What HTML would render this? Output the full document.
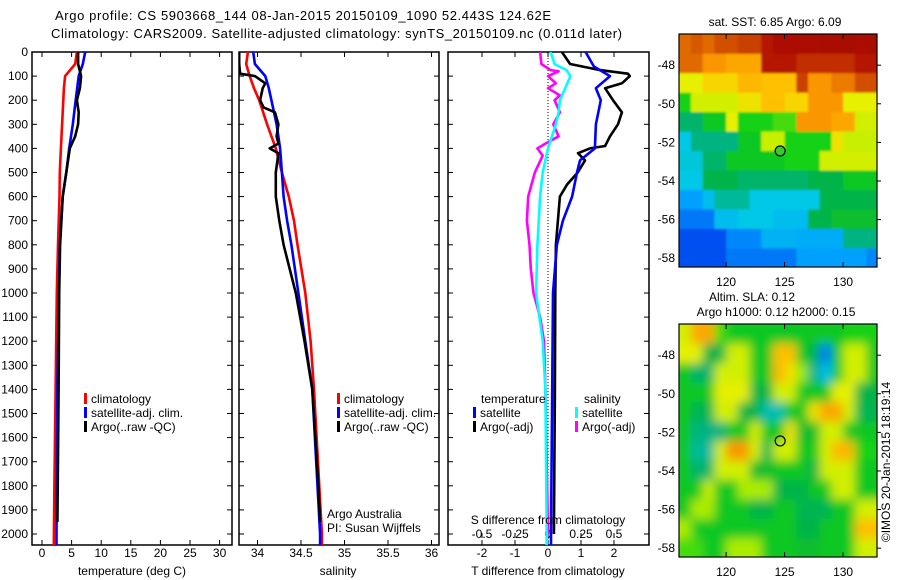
<!DOCTYPE html>
<html><head><meta charset="utf-8"><style>
body{margin:0;background:#fff;}
svg{display:block;font-family:"Liberation Sans",sans-serif;}
text{fill:#000;}
</style></head><body>
<svg id="fig" width="900" height="580" viewBox="0 0 900 580" xmlns="http://www.w3.org/2000/svg">
<defs>
<clipPath id="c1"><rect x="32" y="52" width="200" height="493"/></clipPath>
<clipPath id="c2"><rect x="239" y="52" width="200" height="493"/></clipPath>
<clipPath id="c3"><rect x="448" y="52" width="201" height="493"/></clipPath>
<clipPath id="cm1"><rect x="679" y="34" width="198" height="233"/></clipPath>
<clipPath id="cm2"><rect x="679" y="324" width="198" height="233"/></clipPath>
<filter id="blurS" x="-5%" y="-5%" width="110%" height="110%"><feGaussianBlur stdDeviation="1"/></filter>
<filter id="blurL" x="-5%" y="-5%" width="110%" height="110%"><feGaussianBlur stdDeviation="5"/></filter>
</defs>
<text x="55" y="20" font-size="13" textLength="496">Argo profile: CS 5903668_144 08-Jan-2015 20150109_1090 52.443S 124.62E</text>
<text x="51" y="38" font-size="13" textLength="571">Climatology: CARS2009. Satellite-adjusted climatology: synTS_20150109.nc (0.011d later)</text>
<g id="g"></g>
</svg>
<script>
// ---- profile data (depth in dbar, values) ----
const climTempDepth = [0,50,100,150,300,400,500,600,800,1000,1400,1800,2050];
const climTempVal   = [5.9,5.6,3.9,3.7,3.4,3.2,3.0,2.95,2.7,2.5,2.3,2.1,2.0];
const satTempDepth  = [0,50,100,200,300,400,500,600,800,1000,1400,2000,2050];
const satTempVal    = [7.3,6.9,6.2,5.7,5.2,4.6,4.1,3.5,3.0,2.85,2.6,2.45,2.45];
const argoTempDepth = [0,50,100,150,200,250,300,350,400,500,600,800,1000,1400,1950];
const argoTempVal   = [6.1,6.1,6.6,6.4,5.9,6.2,6.1,5.6,4.7,4.1,3.5,3.05,2.9,2.8,2.6];

const climSalDepth = [0,50,100,150,200,300,400,500,600,700,800,1000,1200,1400,2000,2050];
const climSalVal   = [33.89,33.87,33.91,33.96,34.02,34.11,34.21,34.28,34.36,34.42,34.46,34.55,34.61,34.65,34.74,34.74];
const satSalDepth  = [0,50,100,150,200,300,400,500,600,700,800,1000,1200,1400,2000,2050];
const satSalVal    = [33.95,33.97,34.09,34.13,34.16,34.22,34.26,34.28,34.30,34.34,34.39,34.47,34.55,34.63,34.72,34.72];
const argoSalDepth = [0,50,90,100,130,150,200,230,250,300,350,380,400,420,500,600,700,800,900,1000,1200,1400,1800,1950];
const argoSalVal   = [33.79,33.79,33.80,33.97,34.09,34.06,34.03,34.07,34.20,34.24,34.22,34.24,34.14,34.24,34.21,34.21,34.25,34.30,34.37,34.44,34.54,34.63,34.70,34.72];

const satTdDepth  = [0,60,100,150,200,300,400,450,500,600,700,800,1000,2000,2050];
const satTdVal    = [1.14,1.39,1.88,1.45,1.6,1.45,1.42,0.97,0.88,0.73,0.45,0.27,0.15,0.09,0.09];
const argoTdDepth = [0,50,75,90,100,130,150,200,250,300,350,390,400,420,450,500,550,600,700,800,1000,1400,2000];
const argoTdVal   = [0.42,0.67,1.58,2.42,2.48,2.24,1.73,1.97,2.24,2.12,1.88,1.73,1.27,0.91,1.12,0.9,0.58,0.36,0.3,0.24,0.22,0.21,0.18];
const satSdDepth  = [0,50,75,100,150,200,250,300,350,400,500,600,800,1000,1200,1400,2000,2050];
const satSdVal    = [0.02,0.05,0.14,0.17,0.13,0.09,0.08,0.06,0.03,0.0,-0.04,-0.06,-0.08,-0.09,-0.04,-0.02,-0.01,-0.01];
const argoSdDepth = [0,50,75,80,100,130,150,180,200,250,300,350,380,400,430,500,600,700,800,900,1000,1100,1200,1400,2000];
const argoSdVal   = [-0.06,-0.05,0.02,0.08,0.0,0.06,0.0,0.09,0.05,0.09,0.04,0.08,-0.02,-0.08,-0.04,-0.1,-0.15,-0.16,-0.14,-0.13,-0.11,-0.06,-0.03,-0.02,0.0];

const depthTicks = [0,100,200,300,400,500,600,700,800,900,1000,1100,1200,1300,1400,1500,1600,1700,1800,1900,2000];
const tempTicks = [0,5,10,15,20,25,30];
const salTicks = [34,34.5,35,35.5,36];
const salTickLabels = ["34","34.5","35","35.5","36"];
const tdTicks = [-2,-1,0,1,2];
const sdTicks = [-0.5,-0.25,0,0.25,0.5];
const sdTickLabels = ["-0.5","-0.25","0","0.25","0.5"];
const lonTicks = [120,125,130];
const latTicks = [-48,-50,-52,-54,-56,-58];

// map grids: rows lat -46.4 .. -58.5, cols lon 116 .. 133 (normalised colour value)
const sstGrid = [
[0.85,0.87,0.85,0.88,0.88,0.9,0.9,0.95,0.97,0.97,0.97,0.97,0.98,0.98,0.98,0.97,0.98],
[0.85,0.85,0.8,0.8,0.78,0.78,0.78,0.95,0.95,0.95,0.92,0.92,0.92,0.92,0.92,0.95,0.95],
[0.68,0.68,0.72,0.72,0.72,0.76,0.76,0.75,0.75,0.75,0.9,0.8,0.8,0.83,0.83,0.88,0.88],
[0.52,0.66,0.66,0.66,0.66,0.7,0.7,0.75,0.75,0.72,0.72,0.8,0.8,0.8,0.68,0.68,0.68],
[0.42,0.42,0.5,0.5,0.68,0.52,0.52,0.52,0.55,0.55,0.8,0.8,0.8,0.78,0.78,0.66,0.66],
[0.32,0.4,0.4,0.4,0.4,0.5,0.5,0.65,0.65,0.52,0.52,0.52,0.52,0.7,0.65,0.65,0.65],
[0.33,0.33,0.42,0.42,0.5,0.5,0.5,0.5,0.5,0.52,0.52,0.52,0.66,0.66,0.66,0.66,0.66],
[0.32,0.32,0.45,0.45,0.45,0.42,0.42,0.42,0.42,0.42,0.42,0.45,0.45,0.45,0.5,0.5,0.5],
[0.25,0.25,0.3,0.38,0.38,0.38,0.32,0.32,0.32,0.32,0.32,0.32,0.45,0.45,0.45,0.45,0.45],
[0.2,0.2,0.2,0.3,0.3,0.32,0.32,0.32,0.3,0.3,0.3,0.45,0.45,0.48,0.48,0.48,0.48],
[0.15,0.15,0.15,0.15,0.22,0.22,0.22,0.28,0.28,0.28,0.27,0.27,0.27,0.27,0.4,0.4,0.4],
[0.15,0.15,0.15,0.15,0.2,0.2,0.2,0.2,0.2,0.2,0.25,0.25,0.25,0.25,0.25,0.25,0.22]];
const slaGrid = [
[0.66,0.78,0.78,0.55,0.5,0.5,0.5,0.5,0.5,0.5,0.5,0.5,0.5,0.5,0.52,0.52,0.52],
[0.68,0.68,0.45,0.45,0.66,0.66,0.5,0.5,0.75,0.75,0.5,0.45,0.2,0.5,0.66,0.66,0.5],
[0.5,0.42,0.42,0.66,0.66,0.66,0.5,0.5,0.76,0.7,0.6,0.4,0.3,0.5,0.66,0.66,0.5],
[0.5,0.5,0.5,0.68,0.68,0.68,0.45,0.45,0.66,0.66,0.5,0.5,0.5,0.68,0.68,0.45,0.45],
[0.5,0.44,0.44,0.66,0.66,0.45,0.45,0.36,0.36,0.5,0.5,0.7,0.78,0.78,0.66,0.44,0.44],
[0.5,0.4,0.4,0.4,0.5,0.5,0.66,0.5,0.5,0.7,0.48,0.48,0.66,0.66,0.5,0.5,0.5],
[0.5,0.38,0.38,0.66,0.8,0.8,0.66,0.44,0.66,0.66,0.5,0.5,0.66,0.76,0.76,0.52,0.52],
[0.5,0.42,0.42,0.66,0.66,0.66,0.48,0.48,0.5,0.5,0.5,0.45,0.66,0.66,0.66,0.5,0.5],
[0.5,0.5,0.65,0.5,0.5,0.62,0.62,0.62,0.45,0.45,0.45,0.5,0.5,0.66,0.66,0.5,0.5],
[0.5,0.62,0.62,0.5,0.5,0.5,0.45,0.45,0.5,0.5,0.44,0.44,0.44,0.5,0.5,0.66,0.66],
[0.62,0.5,0.5,0.5,0.5,0.5,0.5,0.5,0.5,0.5,0.45,0.45,0.5,0.5,0.5,0.75,0.75],
[0.55,0.55,0.5,0.5,0.62,0.62,0.62,0.5,0.5,0.5,0.48,0.48,0.5,0.5,0.5,0.66,0.66]];
const argoLon = 124.62, argoLat = -52.443;

const NS = "http://www.w3.org/2000/svg";
const G = document.getElementById('g');
function mk(tag, attrs, parent) {
  const e = document.createElementNS(NS, tag);
  for (const k in attrs) e.setAttribute(k, attrs[k]);
  (parent || G).appendChild(e);
  return e;
}
function txt(x, y, s, size, anchor, parent) {
  const t = mk('text', {x: x, y: y, 'font-size': size, 'text-anchor': anchor || 'start'}, parent);
  t.textContent = s;
  return t;
}
const yD = d => 52 + d * 0.241;
const xT = v => 42 + v * 5.92;
const xS = v => 257.5 + (v - 34) * 87;
const xTd = v => 548 + v * 33;
const xSd = v => 548 + v * 132;

function panel(x0, x1, name, showLabels) {
  const r = mk('rect', {x: x0, y: 52, width: x1 - x0, height: 493, fill: '#fff', stroke: '#000', 'stroke-width': 1.5});
  
  
  depthTicks.forEach(d => {
    const y = yD(d);
    mk('line', {x1: x0, x2: x0 + 5, y1: y, y2: y, stroke: '#000'});
    mk('line', {x1: x1, x2: x1 - 5, y1: y, y2: y, stroke: '#000'});
    if (showLabels) {
      const t = txt(28, y + 4, String(d), 12, 'end');
      
      
    }
  });
}
function xticks(ticks, labels, sc, y0, name) {
  ticks.forEach((v, i) => {
    const x = sc(v);
    mk('line', {x1: x, x2: x, y1: 545, y2: 540, stroke: '#000'});
    mk('line', {x1: x, x2: x, y1: 52, y2: 57, stroke: '#000'});
    const t = txt(x, y0, labels[i], 12, 'middle');
    
    
  });
}
function line(depths, vals, sc, color, clip, name, w) {
  const pts = depths.map((d, i) => sc(vals[i]).toFixed(1) + ',' + yD(d).toFixed(1)).join(' ');
  const p = mk('polyline', {points: pts, fill: 'none', stroke: color, 'stroke-width': w || 2.6, 'clip-path': 'url(#' + clip + ')', 'stroke-linejoin': 'round'});
  
  
}
function legend(x, y, color, label) {
  const b = mk('rect', {x: x, y: y - 10, width: 3, height: 11, fill: color});
  
  
  const t = txt(x + 7, y, label, 12);
  
  
}

// Panel 1 temperature
panel(32, 232, 'temperature-panel', true);
xticks(tempTicks, tempTicks.map(String), xT, 557, 'temperature-tick-label');
line(climTempDepth, climTempVal, xT, '#f00', 'c1', 'temp-climatology-line');
line(satTempDepth, satTempVal, xT, '#00f', 'c1', 'temp-satellite-line');
line(argoTempDepth, argoTempVal, xT, '#000', 'c1', 'temp-argo-line');
legend(84, 403, '#f00', 'climatology');
legend(84, 417, '#00f', 'satellite-adj. clim.');
legend(84, 431, '#000', 'Argo(..raw -QC)');
let t = txt(132, 575, 'temperature (deg C)', 12, 'middle');



// Panel 2 salinity
panel(239, 439, 'salinity-panel', false);
xticks(salTicks, salTickLabels, xS, 557, 'salinity-tick-label');
line(climSalDepth, climSalVal, xS, '#f00', 'c2', 'sal-climatology-line');
line(satSalDepth, satSalVal, xS, '#00f', 'c2', 'sal-satellite-line');
line(argoSalDepth, argoSalVal, xS, '#000', 'c2', 'sal-argo-line');
legend(337, 403, '#f00', 'climatology');
legend(337, 417, '#00f', 'satellite-adj. clim.');
legend(337, 431, '#000', 'Argo(..raw -QC)');
t = txt(327, 518, 'Argo Australia', 12);  
t = txt(327, 532, 'PI: Susan Wijffels', 12);  
t = txt(338, 575, 'salinity', 12, 'middle');



// Panel 3 differences
panel(448, 649, 'difference-panel', false);
tdTicks.forEach(v => {
  const x = xTd(v);
  mk('line', {x1: x, x2: x, y1: 545, y2: 540, stroke: '#000'});
  const tl = txt(x, 557, String(v), 12, 'middle');
  
  
});
sdTicks.forEach((v, i) => {
  const x = xSd(v);
  mk('line', {x1: x, x2: x, y1: 52, y2: 57, stroke: '#000'});
  mk('line', {x1: x, x2: x, y1: 538, y2: 533, stroke: '#000'});
  const tl = txt(x, 538, sdTickLabels[i], 12, 'middle');
  
  
});
mk('line', {x1: 548, x2: 548, y1: 52, y2: 545, stroke: '#000', 'stroke-dasharray': '1,2'});
line(argoSdDepth, argoSdVal, xSd, '#f0f', 'c3', 's-diff-argo-line');
line(satSdDepth, satSdVal, xSd, '#0ff', 'c3', 's-diff-satellite-line');
line(argoTdDepth, argoTdVal, xTd, '#000', 'c3', 't-diff-argo-line');
line(satTdDepth, satTdVal, xTd, '#00f', 'c3', 't-diff-satellite-line');
t = txt(481, 403, 'temperature', 12);  
t = txt(584, 403, 'salinity', 12);  
legend(473, 417, '#00f', 'satellite');
legend(473, 431, '#000', 'Argo(-adj)');
legend(575, 417, '#0ff', 'satellite');
legend(575, 431, '#f0f', 'Argo(-adj)');
t = txt(548, 524, 'S difference from climatology', 12, 'middle');  
t = txt(548, 575, 'T difference from climatology', 12, 'middle');  

// ---- maps ----
const stops = [[0,[0,0,160]],[0.15,[0,80,240]],[0.25,[0,160,255]],[0.32,[0,200,230]],[0.4,[0,180,130]],[0.46,[0,180,60]],[0.52,[20,210,20]],[0.6,[150,235,0]],[0.68,[230,240,0]],[0.74,[255,200,0]],[0.8,[250,150,0]],[0.88,[210,80,0]],[0.95,[180,20,0]],[1,[160,0,0]]];
function cmap(v) {
  for (let i = 1; i < stops.length; i++) {
    if (v <= stops[i][0]) {
      const a = stops[i-1], b = stops[i], f = (v - a[0]) / (b[0] - a[0]);
      const c = a[1].map((q, k) => Math.round(q + (b[1][k] - q) * f));
      return 'rgb(' + c.join(',') + ')';
    }
  }
  return 'rgb(160,0,0)';
}
const lonX = lon => 679.3 + (lon - 116) * 11.7;
function latY(lat, off) { return off + 34.3 + (-46.4 - lat) * 19.3; }

function drawMap(grid, off, clip, filt, name) {
  const g = mk('g', {'clip-path': 'url(#' + clip + ')'});
  
  
  const inner = mk('g', {filter: 'url(#' + filt + ')'}, g);
  const rows = grid.length, cols = grid[0].length;
  const lat0 = -46.4, lat1 = -58.5, lonA = 116, lonB = 133;
  for (let r = 0; r < rows; r++) {
    for (let c = 0; c < cols; c++) {
      const la = lat0 + (lat1 - lat0) * r / rows, lb = lat0 + (lat1 - lat0) * (r + 1) / rows;
      const x = lonX(lonA + (lonB - lonA) * c / cols), x2 = lonX(lonA + (lonB - lonA) * (c + 1) / cols);
      let y = latY(la, off), y2 = latY(lb, off);
      const ex = (c === 0) ? 8 : 0, ex2 = (c === cols - 1) ? 8 : 0;
      const ey = (r === 0) ? 8 : 0, ey2 = (r === rows - 1) ? 8 : 0;
      const cell = mk('rect', {x: (x - ex).toFixed(1), y: (y - ey).toFixed(1), width: (x2 - x + ex + ex2 + 0.6).toFixed(1), height: (y2 - y + ey + ey2 + 0.6).toFixed(1), fill: cmap(grid[r][c])}, inner);
      
      
    }
  }
  const fr = mk('rect', {x: 679, y: off + 34, width: 198, height: 233, fill: 'none', stroke: '#000', 'stroke-width': 1.2});
  
  
  lonTicks.forEach(l => {
    const x = lonX(l);
    mk('line', {x1: x, x2: x, y1: off + 34, y2: off + 39, stroke: '#000'});
    mk('line', {x1: x, x2: x, y1: off + 267, y2: off + 262, stroke: '#000'});
    const tl = txt(x, off + 286, String(l), 12, 'middle');
    
    
  });
  latTicks.forEach(l => {
    const y = latY(l, off);
    mk('line', {x1: 877, x2: 881, y1: y, y2: y, stroke: '#000'});
    const tl = txt(675, y + 4, String(l), 12, 'end');
    
    
  });
  const m = mk('circle', {cx: lonX(argoLon), cy: latY(argoLat, off), r: 5, fill: off ? 'none' : '#3c3', stroke: '#000', 'stroke-width': 1.2});
  
  
}
drawMap(sstGrid, 0, 'cm1', 'blurS', 'sst-map');
drawMap(slaGrid, 290, 'cm2', 'blurL', 'sla-map');
t = txt(775, 26, 'sat. SST: 6.85 Argo: 6.09', 12, 'middle');  
t = txt(752, 301, 'Altim. SLA: 0.12', 12, 'middle');  
t = txt(776, 316, 'Argo h1000: 0.12 h2000: 0.15', 12, 'middle');  
t = txt(0, 0, '©IMOS 20-Jan-2015 18:19:14', 12, 'middle');
t.setAttribute('transform', 'translate(890,462) rotate(-90)');


</script>
</body></html>
